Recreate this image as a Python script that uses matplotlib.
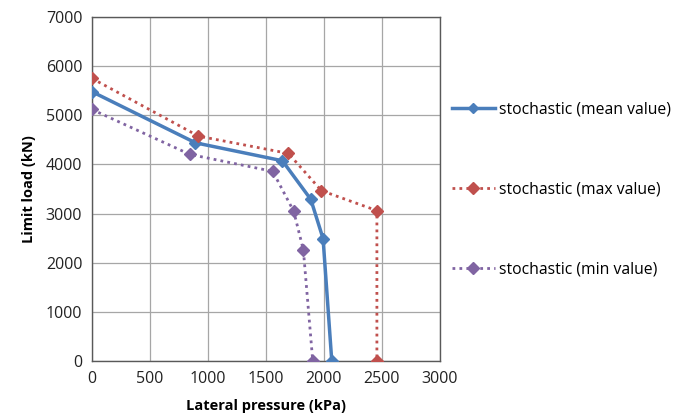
import matplotlib
matplotlib.use("Agg")
import matplotlib.pyplot as plt
from matplotlib.lines import Line2D

plt.rcParams['font.family'] = ['Open Sans', 'DejaVu Sans']

mean_x = [0, 892, 1641, 1886, 1992, 2067]
mean_y = [5480, 4440, 4075, 3290, 2490, 0]
max_x = [0, 918, 1693, 1978, 2456, 2456]
max_y = [5750, 4576, 4224, 3466, 3060, 0]
min_x = [0, 844, 1558, 1739, 1822, 1903]
min_y = [5118, 4204, 3859, 3046, 2261, 0]

labels = ['stochastic (mean value)', 'stochastic (max value)', 'stochastic (min value)']
xticks = [0, 500, 1000, 1500, 2000, 2500, 3000]
yticks = [0, 1000, 2000, 3000, 4000, 5000, 6000, 7000]

blue = '#4A7EBB'
red = '#C0504D'
purple = '#8064A2'

fig = plt.figure(figsize=(6.83, 4.19), dpi=100)
ax = fig.add_axes([92/683, 1-361/419, (440-92)/683, (361-17)/419])

ax.plot(mean_x, mean_y, color=blue, lw=2.5, marker='D', ms=6, mec=blue, mfc=blue, zorder=3)
ax.plot(max_x, max_y, color=red, lw=2, ls=(0, (1, 1.5)), marker='D', ms=6, mec=red, mfc=red, zorder=3)
ax.plot(min_x, min_y, color=purple, lw=2, ls=(0, (1, 1.5)), marker='D', ms=6, mec=purple, mfc=purple, zorder=3)

ax.set_xlim(0, 3000)
ax.set_ylim(0, 7000)
ax.set_xticks(xticks)
ax.set_yticks(yticks)
ax.grid(True, color='#A6A6A6', lw=0.9)
ax.set_axisbelow(True)
for s in ax.spines.values():
    s.set_color('#595959')
    s.set_linewidth(1.0)
ax.tick_params(length=0, labelsize=11.5, colors='#222222', pad=7)
ax.set_xlabel('Lateral pressure (kPa)', fontsize=10.5, fontweight='bold', labelpad=9)
ax.set_ylabel('Limit load (kN)', fontsize=10.5, fontweight='bold', labelpad=7)

handles = [
    Line2D([], [], color=blue, lw=2.5, marker='D', ms=5, mfc=blue, mec=blue),
    Line2D([], [], color=red, lw=2, ls=(0, (1, 1.5)), marker='D', ms=6, mfc=red, mec=red),
    Line2D([], [], color=purple, lw=2, ls=(0, (1, 1.5)), marker='D', ms=6, mfc=purple, mec=purple),
]
fig.legend(handles, labels, loc='upper left', bbox_to_anchor=(446/683, 1-95/419),
           frameon=False, fontsize=11.3, labelspacing=4.1, handlelength=2.7,
           handletextpad=0.3, borderaxespad=0)

fig.savefig('out.png', dpi=100)
